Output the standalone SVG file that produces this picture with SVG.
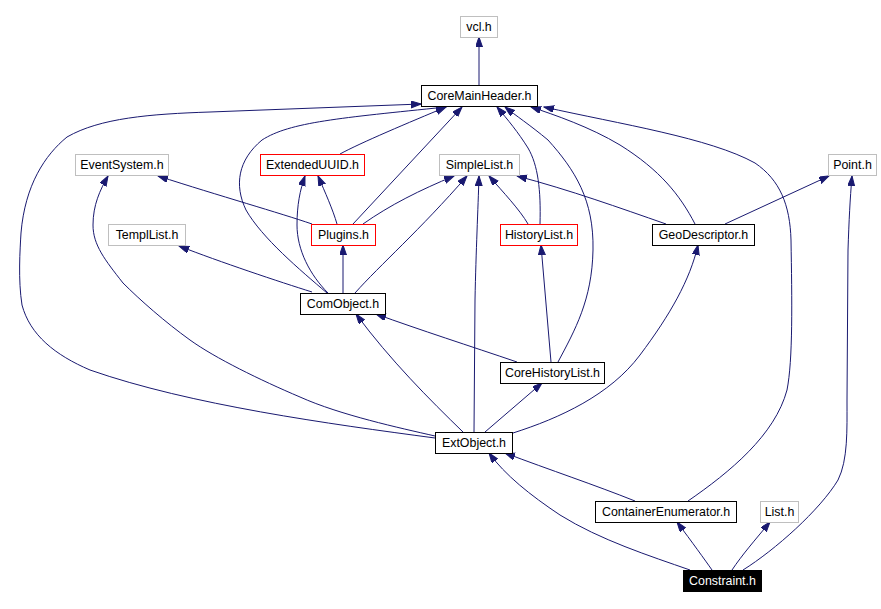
<svg xmlns="http://www.w3.org/2000/svg" width="881" height="609" viewBox="0 0 881 609">
<style>
.n rect{fill:#fff;stroke-width:1}
.k rect{stroke:#000}
.r rect{stroke:#ff0000}
.g rect{stroke:#bfbfbf}
.n text{font-family:"Liberation Sans",Arial,sans-serif;font-size:12.4px;text-anchor:middle;fill:#000}
#Constraint rect{fill:#000;stroke:#000}
#Constraint text{fill:#fff}
#edges path{fill:none;stroke:#191970;stroke-width:1;marker-end:url(#a)}
</style>
<defs>
<marker id="a" markerUnits="userSpaceOnUse" markerWidth="11" markerHeight="8" refX="10" refY="3.5" orient="auto">
<path d="M0,0 L10,3.5 L0,7 z" fill="#191970" stroke="#191970" stroke-width="1"/>
</marker>
</defs>
<rect width="881" height="609" fill="#fff"/>
<g id="edges">
<path d="M479,85 L479,37"/>
<path d="M340,154 C360,143 410,122 446,107"/>
<path d="M353,224 L462,107"/>
<path d="M327,293 C300,270 262,238 246,210 C234,185 238,160 262,140 C290,122 340,118 446,107"/>
<path d="M435,438 C330,424 190,405 90,370 C55,355 30,335 22,305 C18,280 20,250 21,233 C25,185 45,155 67,137 C100,118 150,114 210,112 L421,104"/>
<path d="M540,224 C541,190 538,165 528,148 C518,132 508,120 497,107"/>
<path d="M558,362 C575,330 592,300 593,250 C594,200 575,170 548,140 C530,125 515,115 505,107"/>
<path d="M695,224 C680,195 660,170 620,145 C590,127 555,115 531,107"/>
<path d="M688,501 C730,472 775,435 787,390 C793,360 792,300 791,240 C790,205 780,180 755,163 C710,138 620,124 544,107"/>
<path d="M328,293 C310,275 297,250 297,225 C297,205 300,190 305,176"/>
<path d="M337,224 C333,210 325,192 318,176"/>
<path d="M312,224 C280,213 220,196 158,176"/>
<path d="M363,224 C390,205 420,190 454,176"/>
<path d="M355,293 C380,265 420,230 467,176"/>
<path d="M343,293 L343,245"/>
<path d="M312,292 C280,282 220,262 179,246"/>
<path d="M528,224 C520,210 503,192 489,176"/>
<path d="M666,224 C620,208 570,190 517,176"/>
<path d="M725,224 L829,176"/>
<path d="M551,362 L541,245"/>
<path d="M517,362 C470,346 420,330 376,314"/>
<path d="M485,432 L542,383"/>
<path d="M463,432 C430,400 390,360 356,314"/>
<path d="M474,432 L475,300 C476,250 478,210 479,176"/>
<path d="M513,433 C560,418 610,395 640,355 C670,315 690,280 698,245"/>
<path d="M435,436 C400,428 340,415 300,397 C260,380 215,358 190,340 C165,322 140,300 123,283 C105,260 93,245 93,225 C93,205 100,190 108,176"/>
<path d="M635,501 C595,485 550,470 505,453"/>
<path d="M690,570 C650,556 600,540 560,515 C530,495 505,475 489,453"/>
<path d="M712,570 C705,560 692,542 677,522"/>
<path d="M732,570 C742,555 755,540 770,522"/>
<path d="M743,570 C775,550 820,510 838,480 C848,460 847,430 847,400 L848,250 C849,220 850,200 852,176"/>
</g>
<g id="vcl" class="n g"><rect x="460.5" y="16.5" width="37" height="21"/><text x="479" y="31">vcl.h</text></g>
<g id="CoreMainHeader" class="n k"><rect x="421.5" y="85.5" width="116" height="21"/><text x="479.5" y="100">CoreMainHeader.h</text></g>
<g id="EventSystem" class="n g"><rect x="75.5" y="154.5" width="93" height="21"/><text x="122" y="169">EventSystem.h</text></g>
<g id="ExtendedUUID" class="n r"><rect x="260.5" y="154.5" width="104" height="21"/><text x="312.5" y="169">ExtendedUUID.h</text></g>
<g id="SimpleList" class="n g"><rect x="439.5" y="154.5" width="80" height="21"/><text x="479.5" y="169">SimpleList.h</text></g>
<g id="Point" class="n g"><rect x="828.5" y="154.5" width="48" height="21"/><text x="852.5" y="169">Point.h</text></g>
<g id="TemplList" class="n g"><rect x="108.5" y="224.5" width="77" height="21"/><text x="147" y="239">TemplList.h</text></g>
<g id="Plugins" class="n r"><rect x="311.5" y="224.5" width="64" height="21"/><text x="343.5" y="239">Plugins.h</text></g>
<g id="HistoryList" class="n r"><rect x="500.5" y="224.5" width="77" height="21"/><text x="539" y="239">HistoryList.h</text></g>
<g id="GeoDescriptor" class="n k"><rect x="652.5" y="224.5" width="102" height="21"/><text x="703.5" y="239">GeoDescriptor.h</text></g>
<g id="ComObject" class="n k"><rect x="300.5" y="293.5" width="85" height="21"/><text x="343" y="308">ComObject.h</text></g>
<g id="CoreHistoryList" class="n k"><rect x="500.5" y="362.5" width="104" height="21"/><text x="552.5" y="377">CoreHistoryList.h</text></g>
<g id="ExtObject" class="n k"><rect x="435.5" y="432.5" width="77" height="21"/><text x="474" y="447">ExtObject.h</text></g>
<g id="ContainerEnumerator" class="n k"><rect x="595.5" y="501.5" width="141" height="21"/><text x="666" y="516">ContainerEnumerator.h</text></g>
<g id="List" class="n g"><rect x="760.5" y="501.5" width="38" height="21"/><text x="779.5" y="516">List.h</text></g>
<g id="Constraint" class="n"><rect x="683.5" y="570.5" width="78" height="21"/><text x="722.5" y="585">Constraint.h</text></g>
</svg>
